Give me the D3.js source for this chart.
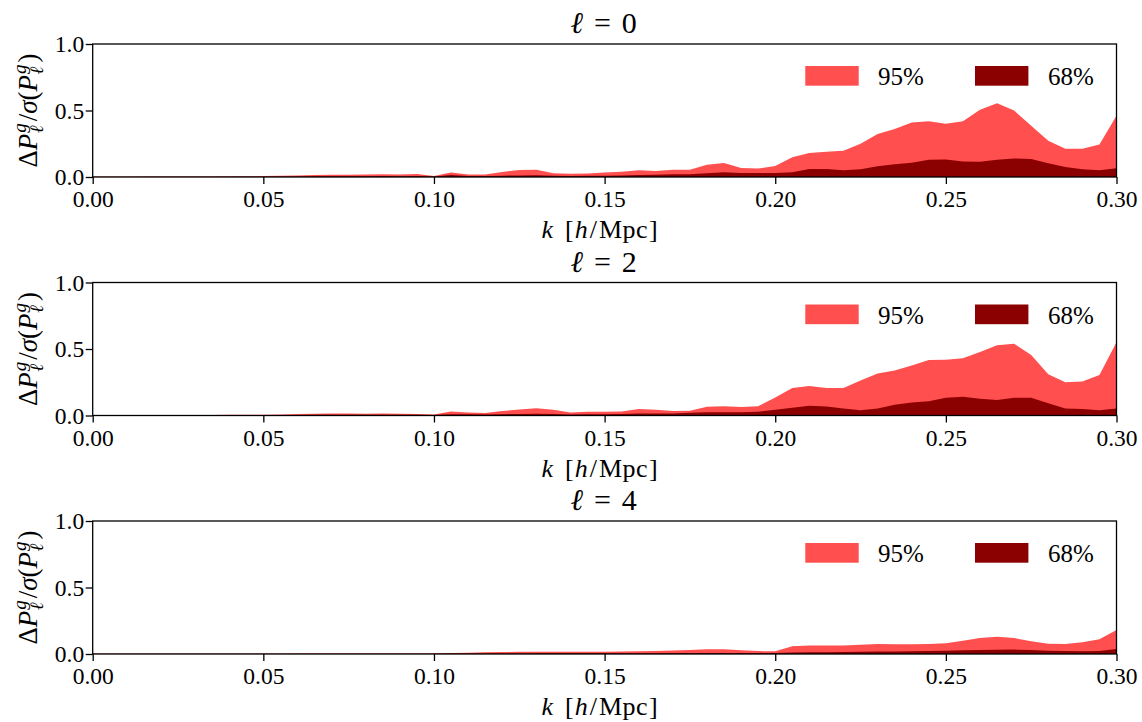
<!DOCTYPE html>
<html>
<head>
<meta charset="utf-8">
<script src="https://cdn.jsdelivr.net/npm/d3@7/dist/d3.min.js"></script>
<style>
  html, body { margin: 0; padding: 0; background: #ffffff; }
  svg { display: block; }
</style>
</head>
<body>
<svg id="chart" width="1142" height="722" font-family="Liberation Serif"></svg>
<script>
// Wavenumber grid k [h/Mpc]
const kValues = [
  0.000, 0.005, 0.010, 0.015, 0.020, 0.025, 0.030, 0.035, 0.040, 0.045,
  0.050, 0.055, 0.060, 0.065, 0.070, 0.075, 0.080, 0.085, 0.090, 0.095,
  0.100, 0.105, 0.110, 0.115, 0.120, 0.125, 0.130, 0.135, 0.140, 0.145,
  0.150, 0.155, 0.160, 0.165, 0.170, 0.175, 0.180, 0.185, 0.190, 0.195,
  0.200, 0.205, 0.210, 0.215, 0.220, 0.225, 0.230, 0.235, 0.240, 0.245,
  0.250, 0.255, 0.260, 0.265, 0.270, 0.275, 0.280, 0.285, 0.290, 0.295,
  0.300
];

// Multipole ell = 0
const ell0Band95 = [
  0.002, 0.002, 0.002, 0.003, 0.003, 0.003, 0.004, 0.004, 0.005, 0.006,
  0.007, 0.009, 0.012, 0.015, 0.017, 0.017, 0.018, 0.020, 0.018, 0.022,
  0.008, 0.033, 0.018, 0.018, 0.038, 0.053, 0.055, 0.028, 0.025, 0.027,
  0.033, 0.040, 0.050, 0.045, 0.055, 0.055, 0.093, 0.106, 0.068, 0.063,
  0.083, 0.149, 0.180, 0.190, 0.197, 0.250, 0.323, 0.360, 0.410, 0.420,
  0.400, 0.420, 0.505, 0.555, 0.500, 0.386, 0.273, 0.212, 0.212, 0.245,
  0.460
];
const ell0Band68 = [
  0.001, 0.001, 0.001, 0.001, 0.001, 0.001, 0.001, 0.001, 0.001, 0.001,
  0.002, 0.003, 0.004, 0.005, 0.006, 0.006, 0.006, 0.007, 0.006, 0.008,
  0.004, 0.015, 0.008, 0.008, 0.010, 0.012, 0.013, 0.009, 0.008, 0.009,
  0.010, 0.012, 0.015, 0.017, 0.020, 0.020, 0.028, 0.035, 0.030, 0.030,
  0.030, 0.035, 0.060, 0.060, 0.050, 0.058, 0.080, 0.096, 0.108, 0.129,
  0.131, 0.116, 0.114, 0.129, 0.139, 0.136, 0.103, 0.076, 0.058, 0.050,
  0.066
];

// Multipole ell = 2
const ell2Band95 = [
  0.002, 0.002, 0.002, 0.003, 0.003, 0.003, 0.004, 0.004, 0.005, 0.005,
  0.006, 0.008, 0.011, 0.014, 0.015, 0.015, 0.014, 0.015, 0.013, 0.012,
  0.008, 0.030, 0.023, 0.018, 0.033, 0.045, 0.055, 0.043, 0.023, 0.028,
  0.028, 0.030, 0.048, 0.043, 0.033, 0.035, 0.066, 0.070, 0.063, 0.070,
  0.136, 0.207, 0.222, 0.207, 0.207, 0.263, 0.316, 0.338, 0.376, 0.417,
  0.420, 0.430, 0.477, 0.528, 0.540, 0.455, 0.310, 0.250, 0.255, 0.305,
  0.550
];
const ell2Band68 = [
  0.001, 0.001, 0.001, 0.001, 0.001, 0.001, 0.001, 0.001, 0.001, 0.001,
  0.002, 0.003, 0.004, 0.005, 0.006, 0.006, 0.006, 0.006, 0.005, 0.005,
  0.004, 0.010, 0.009, 0.008, 0.010, 0.012, 0.014, 0.012, 0.008, 0.009,
  0.010, 0.012, 0.015, 0.015, 0.015, 0.020, 0.025, 0.025, 0.025, 0.028,
  0.043, 0.058, 0.073, 0.068, 0.053, 0.040, 0.053, 0.080, 0.098, 0.108,
  0.134, 0.141, 0.126, 0.116, 0.134, 0.134, 0.093, 0.053, 0.048, 0.040,
  0.053
];

// Multipole ell = 4
const ell4Band95 = [
  0.001, 0.001, 0.001, 0.001, 0.001, 0.001, 0.001, 0.001, 0.001, 0.001,
  0.002, 0.002, 0.003, 0.003, 0.003, 0.003, 0.003, 0.003, 0.003, 0.003,
  0.003, 0.007, 0.010, 0.013, 0.015, 0.016, 0.017, 0.016, 0.017, 0.017,
  0.017, 0.018, 0.020, 0.023, 0.027, 0.030, 0.035, 0.035, 0.028, 0.022,
  0.020, 0.058, 0.063, 0.063, 0.063, 0.070, 0.075, 0.073, 0.073, 0.075,
  0.080, 0.100, 0.120, 0.130, 0.120, 0.095, 0.078, 0.075, 0.088, 0.110,
  0.180
];
const ell4Band68 = [
  0.001, 0.001, 0.001, 0.001, 0.001, 0.001, 0.001, 0.001, 0.001, 0.001,
  0.001, 0.001, 0.001, 0.001, 0.001, 0.001, 0.001, 0.001, 0.001, 0.001,
  0.002, 0.003, 0.003, 0.004, 0.004, 0.004, 0.005, 0.005, 0.005, 0.005,
  0.005, 0.005, 0.006, 0.006, 0.007, 0.007, 0.008, 0.008, 0.008, 0.008,
  0.008, 0.011, 0.013, 0.014, 0.015, 0.016, 0.018, 0.019, 0.020, 0.022,
  0.025, 0.028, 0.030, 0.032, 0.033, 0.030, 0.025, 0.022, 0.020, 0.023,
  0.038
];

const multipoles = ["0", "2", "4"];
const xTicks = [0.00, 0.05, 0.10, 0.15, 0.20, 0.25, 0.30];
const yTicks = [0.0, 0.5, 1.0];
const legendLabels = ["95%", "68%"];

const panels = [
  { ell: multipoles[0], b95: ell0Band95, b68: ell0Band68 },
  { ell: multipoles[1], b95: ell2Band95, b68: ell2Band68 },
  { ell: multipoles[2], b95: ell4Band95, b68: ell4Band68 }
];

const FONT = "Liberation Serif";
const color95 = "#ff4f4f";
const color68 = "#8b0000";

const svg = d3.select("#chart");
const left = 92.7, right = 1116.5, panelH = 133;
const tops = [44, 282.5, 521];

const x = d3.scaleLinear().domain([0, 0.30]).range([left, right]);

panels.forEach((p, i) => {
  const top = tops[i];
  const y = d3.scaleLinear().domain([0, 1]).range([top + panelH, top]);
  const g = svg.append("g");

  const area = vals => d3.area()
    .x((d, j) => x(kValues[j]))
    .y0(y(0))
    .y1(d => y(d))(vals);

  // confidence bands: 95% underneath, 68% on top
  g.append("path").attr("d", area(p.b95)).attr("fill", color95);
  g.append("path").attr("d", area(p.b68)).attr("fill", color68);

  // x axis
  const xa = g.append("g")
    .attr("transform", `translate(0,${top + panelH})`)
    .call(d3.axisBottom(x).tickValues(xTicks).tickFormat(d3.format(".2f"))
      .tickSize(7).tickPadding(6.5).tickSizeOuter(0));
  xa.attr("font-family", FONT).attr("font-size", 23.5);
  xa.select(".domain").remove();
  xa.selectAll("line").attr("stroke", "#000").attr("stroke-width", 1.3);
  xa.selectAll("text").attr("fill", "#000");

  // y axis
  const ya = g.append("g")
    .attr("transform", `translate(${left},0)`)
    .call(d3.axisLeft(y).tickValues(yTicks).tickFormat(d3.format(".1f"))
      .tickSize(7).tickPadding(1.5).tickSizeOuter(0));
  ya.attr("font-family", FONT).attr("font-size", 23.5);
  ya.select(".domain").remove();
  ya.selectAll("line").attr("stroke", "#000").attr("stroke-width", 1.3);
  ya.selectAll("text").attr("fill", "#000");

  // frame
  g.append("rect")
    .attr("x", left).attr("y", top)
    .attr("width", right - left).attr("height", panelH)
    .attr("fill", "none").attr("stroke", "#000").attr("stroke-width", 1.3);

  // title
  const t = g.append("text")
    .attr("x", (left + right) / 2 - 1).attr("y", top - 11)
    .attr("text-anchor", "middle").attr("font-size", 30).attr("font-family", FONT);
  t.append("tspan").attr("font-style", "italic").text("ℓ");
  t.append("tspan").attr("dx", 11).text("=");
  t.append("tspan").attr("dx", 11).text(p.ell);

  // x label
  const xl = g.append("text")
    .attr("x", (left + right) / 2 - 5).attr("y", top + panelH + 61)
    .attr("text-anchor", "middle").attr("font-size", 26).attr("font-family", FONT);
  xl.append("tspan").attr("font-style", "italic").text("k");
  xl.append("tspan").attr("dx", 12).text("[");
  xl.append("tspan").attr("font-style", "italic").attr("dx", 1).text("h");
  xl.append("tspan").attr("dx", 2).text("/");
  xl.append("tspan").attr("dx", 2).attr("letter-spacing", 0.5).text("Mpc");
  xl.append("tspan").attr("dx", 1).text("]");

  // y label: ΔP_ℓ^g / σ(P_ℓ^g)
  const cy = top + panelH / 2;
  const yl = g.append("text")
    .attr("transform", `translate(37,${cy}) rotate(-90)`)
    .attr("text-anchor", "middle").attr("font-size", 27).attr("font-family", FONT);
  const addP = () => {
    yl.append("tspan").attr("font-style", "italic").text("P");
    yl.append("tspan").attr("font-style", "italic").attr("font-size", 19).attr("dy", -11).attr("dx", 1).text("g");
    yl.append("tspan").attr("font-style", "italic").attr("font-size", 19).attr("dx", -10).attr("dy", 17).text("ℓ");
  };
  yl.append("tspan").text("Δ");
  addP();
  yl.append("tspan").attr("dy", -6).attr("dx", 4).text("/");
  yl.append("tspan").attr("font-style", "italic").text("σ");
  yl.append("tspan").text("(");
  addP();
  yl.append("tspan").attr("dy", -6).attr("dx", 4).text(")");

  // legend
  const items = [
    { label: legendLabels[0], color: color95, rx: 805.3, tx: 878 },
    { label: legendLabels[1], color: color68, rx: 975, tx: 1048 }
  ];
  items.forEach(it => {
    g.append("rect").attr("x", it.rx).attr("y", top + 22)
      .attr("width", 53.4).attr("height", 19.7).attr("fill", it.color);
    g.append("text").attr("x", it.tx).attr("y", top + 41)
      .attr("font-size", 25).attr("font-family", FONT).text(it.label);
  });
});
</script>
</body>
</html>
